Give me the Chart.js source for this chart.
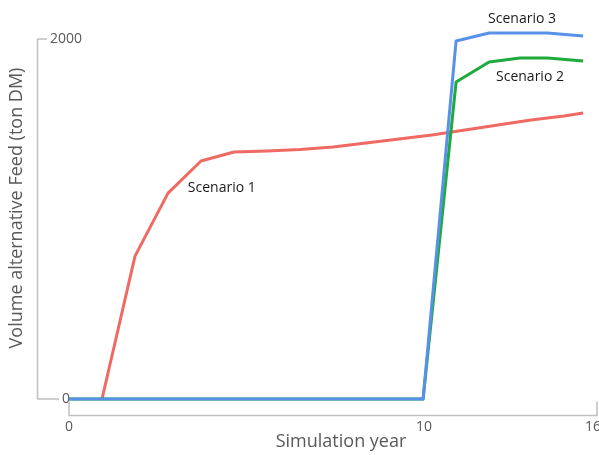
<!DOCTYPE html>
<html>
<head>
<meta charset="utf-8">
<script src="https://cdn.jsdelivr.net/npm/chart.js@4.4.0/dist/chart.umd.min.js"></script>
<style>
  html, body { margin: 0; padding: 0; background: #fff; overflow: hidden; }
  #wrap { width: 599px; height: 455px; position: relative; }
</style>
</head>
<body>
<div id="wrap"><canvas id="feedChart"></canvas></div>
<script>
// axis ticks
const xTickValues = [0, 10.76, 15.88];
const xTickLabels = ['0', '10', '16'];
const yTickValues = [0, 2000];

// series (simulation year, ton DM)
const scenario1X = [1, 2, 3, 4, 5, 6, 7, 8, 9, 10, 11, 12, 13, 14, 15, 15.58];
const scenario1Y = [0, 794, 1144, 1322, 1372, 1378, 1386, 1400, 1422, 1444, 1467, 1494, 1522, 1550, 1572, 1589];
const scenario2X = [0, 10.73, 11.73, 12.73, 13.67, 14.5, 15.58];
const scenario2Y = [0, 0, 1761, 1872, 1894, 1894, 1878];
const scenario3X = [0, 10.73, 11.73, 12.73, 14.5, 15.58];
const scenario3Y = [0, 0, 1989, 2033, 2033, 2017];

const seriesNames = ['Scenario 1', 'Scenario 2', 'Scenario 3'];

const FONT = "'Open Sans', 'Noto Sans', sans-serif";
const AXIS_GREY = '#BFBFBF';
const TEXT_GREY = '#595959';

function toPoints(xs, ys) {
  return xs.map((x, i) => ({ x: x, y: ys[i] }));
}

// where the scenario names sit (data coords, left/middle anchored)
const labelSpots = [
  { x: 3.6, y: 1172 },
  { x: 12.94, y: 1789 },
  { x: 12.7, y: 2111 },
];

// axis lines, small ticks, x title and the scenario names
const decor = {
  id: 'decor',
  afterDraw(chart) {
    const { ctx, chartArea, scales } = chart;
    const xs = scales.x, ys = scales.y;
    ctx.save();
    ctx.strokeStyle = AXIS_GREY;
    ctx.lineWidth = 1.5;

    // y axis: detached line with ticks
    const axX = chartArea.left + 0.5;
    const y0 = ys.getPixelForValue(0), y2000 = ys.getPixelForValue(2000);
    ctx.beginPath();
    ctx.moveTo(axX, y2000);
    ctx.lineTo(axX, y0);
    ctx.stroke();
    ctx.font = '14px ' + FONT;
    const widest = Math.max(...yTickValues.map(v => ctx.measureText(String(v)).width));
    const labelCenter = chartArea.left + 13 + widest / 2;
    yTickValues.forEach(v => {
      const py = ys.getPixelForValue(v);
      const w = ctx.measureText(String(v)).width;
      ctx.beginPath();
      ctx.moveTo(axX, py);
      ctx.lineTo(labelCenter - w / 2 - 3, py);
      ctx.stroke();
    });

    // x axis: from 0 to 16 along the bottom
    const bottom = chartArea.bottom - 0.5;
    const xa = xs.getPixelForValue(0), xb = xs.getPixelForValue(16);
    ctx.beginPath();
    ctx.moveTo(xa, bottom - 14);
    ctx.lineTo(xa, bottom);
    ctx.lineTo(xb, bottom);
    ctx.lineTo(xb, bottom - 14);
    ctx.stroke();

    // x title
    ctx.fillStyle = TEXT_GREY;
    ctx.font = '18px ' + FONT;
    ctx.textAlign = 'center';
    ctx.textBaseline = 'middle';
    ctx.fillText('Simulation year', 341, 442);

    // scenario names
    ctx.fillStyle = '#1a1a1a';
    ctx.font = '14px ' + FONT;
    ctx.textAlign = 'left';
    seriesNames.forEach((name, i) => {
      const s = labelSpots[i];
      ctx.fillText(name, xs.getPixelForValue(s.x), ys.getPixelForValue(s.y));
    });
    ctx.restore();
  }
};

const lineStyle = {
  borderWidth: 3,
  pointRadius: 0,
  tension: 0,
  fill: false,
  borderJoinStyle: 'round',
};

new Chart(document.getElementById('feedChart'), {
  type: 'line',
  data: {
    datasets: [
      // first dataset is drawn on top
      { label: seriesNames[2], data: toPoints(scenario3X, scenario3Y), borderColor: '#5891E8', ...lineStyle },
      { label: seriesNames[1], data: toPoints(scenario2X, scenario2Y), borderColor: '#1EAA3C', ...lineStyle },
      { label: seriesNames[0], data: toPoints(scenario1X, scenario1Y), borderColor: '#EF6A62', ...lineStyle },
    ],
  },
  options: {
    responsive: true,
    maintainAspectRatio: false,
    animation: false,
    layout: { padding: { right: 2 } },
    plugins: {
      legend: { display: false },
      tooltip: { enabled: false },
    },
    scales: {
      x: {
        type: 'linear',
        min: -0.97,
        max: 16,
        grid: { display: false, drawTicks: false },
        border: { display: false },
        afterBuildTicks: s => { s.ticks = xTickValues.map(v => ({ value: v })); },
        afterFit: s => { s.height = 39; s.paddingLeft = 0; s.paddingRight = 0; },
        ticks: {
          padding: 3,
          maxRotation: 0,
          autoSkip: false,
          color: TEXT_GREY,
          font: { family: FONT, size: 14 },
          callback: (v, i) => xTickLabels[i],
        },
        title: { display: false },
      },
      y: {
        min: -94.4,
        max: 2216.7,
        grid: { display: false, drawTicks: false },
        border: { display: false },
        afterBuildTicks: s => { s.ticks = yTickValues.map(v => ({ value: v })); },
        afterFit: s => { s.width = 37; s.paddingTop = 0; s.paddingBottom = 0; },
        ticks: {
          mirror: true,
          crossAlign: 'center',
          padding: 13,
          color: TEXT_GREY,
          font: { family: FONT, size: 14 },
          callback: v => String(v),
        },
        title: {
          display: true,
          text: 'Volume alternative Feed (ton DM)',
          color: TEXT_GREY,
          font: { family: FONT, size: 18 },
          padding: { top: 6, bottom: 0 },
        },
      },
    },
  },
  plugins: [decor],
});
</script>
</body>
</html>
